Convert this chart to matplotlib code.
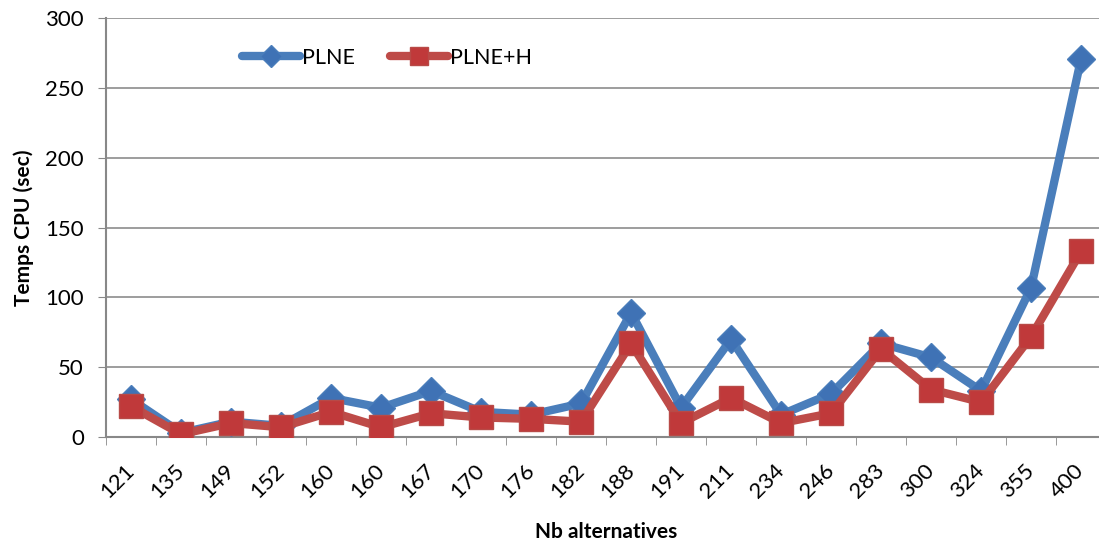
import matplotlib.pyplot as plt
import numpy as np

plt.rcParams['font.family'] = ['Lato', 'DejaVu Sans']

# data
alternatives = ['121', '135', '149', '152', '160', '160', '167', '170', '176', '182',
                '188', '191', '211', '234', '246', '283', '300', '324', '355', '400']
plne = [27, 3, 11, 8, 28, 21, 33, 18, 16, 24, 89, 21, 70, 16, 31, 67, 57, 33, 107, 271]
plne_h = [22, 2, 10, 7, 18, 7, 17, 14, 13, 11, 67, 10, 28, 10, 17, 63, 34, 25, 72, 133]

fig = plt.figure(figsize=(10.99, 5.42), dpi=100)
# plot area runs a little past the right edge, as in the source
ax = fig.add_axes([0.0965, 0.1937, 0.910, 0.773])

x = np.arange(len(alternatives))
ax.plot(x, plne, color='#4a7ebb', lw=6, marker='D', ms=14, mfc='#3f72b5', mec='#4a7ebb',
        solid_capstyle='round', solid_joinstyle='round', label='PLNE', zorder=3)
ax.plot(x, plne_h, color='#be4b48', lw=6, marker='s', ms=17, mfc='#c0393a', mec='#b84a47',
        solid_capstyle='round', solid_joinstyle='round', label='PLNE+H', zorder=4)

ax.set_xlim(-0.5, len(alternatives) - 0.5)
ax.set_ylim(0, 300)
ax.set_yticks(range(0, 301, 50))
ax.set_xticks(x)
ax.set_xticklabels(alternatives, rotation=45, ha='right', va='center',
                   rotation_mode='anchor', fontsize=16)
ax.set_xticks(np.arange(-0.5, len(alternatives), 1), minor=True)
ax.tick_params(axis='x', which='major', length=0, pad=22)
ax.tick_params(axis='x', which='minor', length=6, color='#888888')
ax.tick_params(axis='y', length=6, color='#888888', labelsize=16, pad=10)

ax.grid(axis='y', color='#8c8c8c', lw=1.2)
ax.set_axisbelow(True)
for s in ['top', 'right']:
    ax.spines[s].set_visible(False)
ax.spines['left'].set_color('#888888')
ax.spines['bottom'].set_color('#888888')
ax.spines['left'].set_linewidth(1.5)
ax.spines['bottom'].set_linewidth(1.5)

ax.set_xlabel('Nb alternatives', fontsize=15, fontweight='bold', labelpad=14)
ax.set_ylabel('Temps CPU (sec)', fontsize=15, fontweight='bold', labelpad=8)

ax.legend(loc='center left', bbox_to_anchor=(242 / 1099, 1 - 58 / 542),
          bbox_transform=fig.transFigure, ncol=2, frameon=False, borderpad=0,
          borderaxespad=0, fontsize=15.5, handlelength=2.7, handletextpad=0.1,
          columnspacing=1.6, markerscale=0.8)

fig.savefig('out.png', dpi=100)
